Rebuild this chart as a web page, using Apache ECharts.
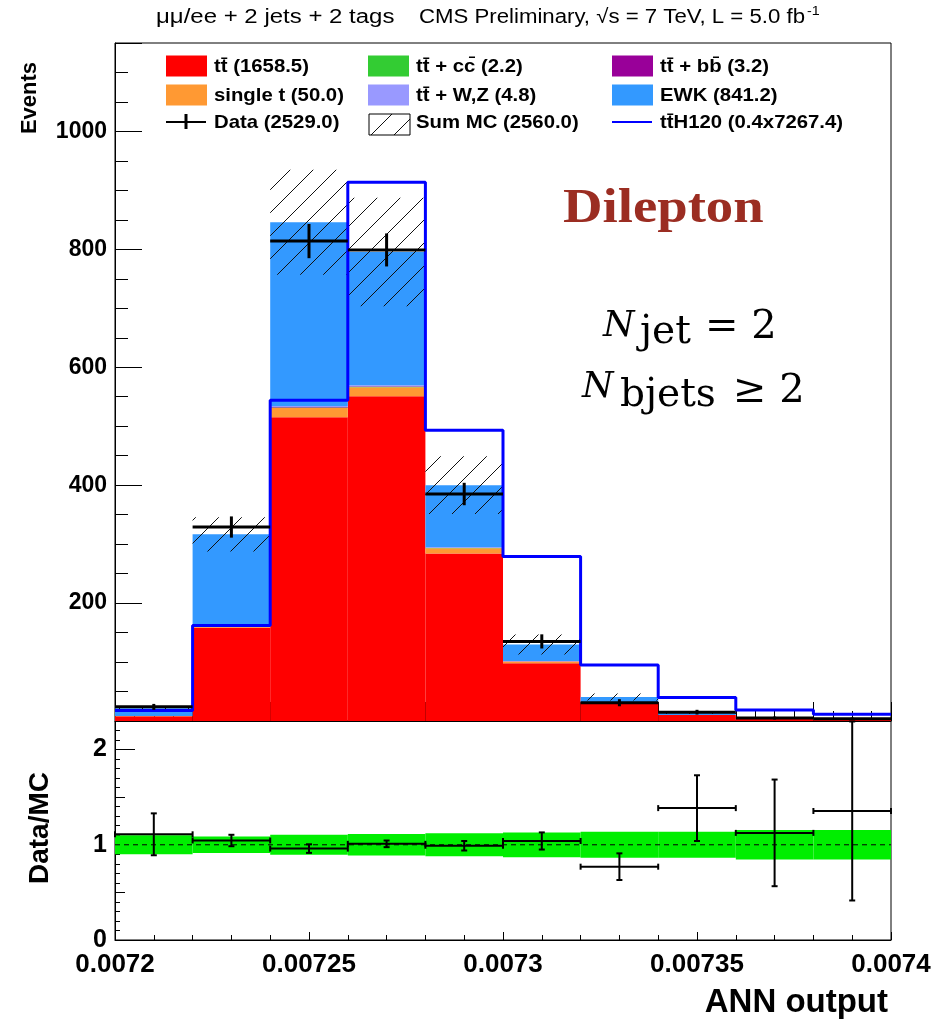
<!DOCTYPE html>
<html><head><meta charset="utf-8">
<script src="https://cdn.jsdelivr.net/npm/echarts@6/dist/echarts.min.js"></script>
<style>html,body{margin:0;padding:0;background:#fff}#c{width:941px;height:1022px}</style>
</head><body><div id="c"></div><script>
// ---- data ----
const binEdges   = [0.0072,0.00722,0.00724,0.00726,0.00728,0.0073,0.00732,0.00734,0.00736,0.00738,0.0074];
const ttbar      = [8,158,515,551,284,98,31,10,3.5,2];
const singleTop  = [0.5,6,16,15,9,3,0.5,0,0,0];
const ttcc       = [0,0.2,0.7,0.8,0.4,0.1,0,0,0,0];
const ttbb       = [0,0.2,0.9,1.1,0.6,0.3,0.1,0,0,0];
const ttVV       = [0,0.3,1.5,1.6,0.9,0.3,0.1,0.05,0.03,0.02];
const ewk        = [13,152,312,226,105,28,9,4,1,1];
const mcErr      = [2.5,29,89,92,49,17,6,2,1,0.5];
const dataVals   = [24,329,814,799,385,135,31,15,5,4];
const dataErr    = [5,18,29,28,19,12,6,4,2.5,2];
const signalVals = [18,162,544,914,493,279,95,40,18.7,11.3];
const ratioVals  = [1.11,1.045,0.96,1.01,0.99,1.04,0.77,1.385,1.125,1.355];
const ratioErr   = [0.22,0.06,0.045,0.035,0.05,0.09,0.14,0.345,0.56,0.94];
const ratioBand  = [0.1,0.087,0.105,0.113,0.12,0.13,0.136,0.137,0.155,0.155];
const xTickLabels     = ['0.0072','0.00725','0.0073','0.00735','0.0074'];
const yTickLabels     = ['200','400','600','800','1000'];
const ratioTickLabels = ['0','1','2'];
const legendLabels = ['t\u0074\u0304 (1658.5)','t\u0074\u0304 + c\u0063\u0304 (2.2)','t\u0074\u0304 + b\u0062\u0304 (3.2)',
                      'single t (50.0)','t\u0074\u0304 + W,Z (4.8)','EWK (841.2)',
                      'Data (2529.0)','Sum MC (2560.0)','t\u0074\u0304H120 (0.4x7267.4)'];

// ---- styles ----
const stackComps = [
  {vals: ttbar, color:'#ff0000'},
  {vals: singleTop, color:'#ff9933'},
  {vals: ttcc, color:'#33cc33'},
  {vals: ttbb, color:'#990099'},
  {vals: ttVV, color:'#9999ff'},
  {vals: ewk, color:'#3399ff'}
];
const FONT = '"Liberation Sans", Arial, Helvetica, sans-serif';

function makeHatch(){
  const s = 23;
  const c = document.createElement('canvas'); c.width = s; c.height = s;
  const g = c.getContext('2d');
  g.strokeStyle = '#111'; g.lineWidth = 1;
  g.beginPath(); g.moveTo(-2, s+2); g.lineTo(s+2, -2); g.stroke();
  return c;
}
const hatch = {image: makeHatch(), repeat: 'repeat'};

function rectItem(color){
  return function(params, api){
    const p0 = api.coord([api.value(0), api.value(2)]);
    const p1 = api.coord([api.value(1), api.value(3)]);
    return {type:'rect', shape:{x:p0[0], y:p1[1], width:p1[0]-p0[0], height:p0[1]-p1[1]},
            style:{fill: color}};
  };
}

const series = [];
const base = binEdges.slice(0,-1).map(()=>0);
stackComps.forEach(c => {
  const d = c.vals.map((v,i) => { const r=[binEdges[i], binEdges[i+1], base[i], base[i]+v]; base[i]+=v; return r; });
  series.push({type:'custom', xAxisIndex:0, yAxisIndex:0, z:2, renderItem: rectItem(c.color), data:d});
});
// MC uncertainty hatch
series.push({type:'custom', xAxisIndex:0, yAxisIndex:0, z:3, renderItem: rectItem(hatch),
  data: base.map((t,i)=>[binEdges[i], binEdges[i+1], t-mcErr[i], t+mcErr[i]])});
// signal step line
const sig = signalVals.map((v,i)=>[binEdges[i], v]);
sig.push([binEdges[binEdges.length-1], signalVals[signalVals.length-1]]);
series.push({type:'line', xAxisIndex:0, yAxisIndex:0, z:4, step:'end', symbol:'none', data: sig,
  lineStyle:{color:'#0000ff', width:3}});
// data crosses
series.push({type:'custom', xAxisIndex:0, yAxisIndex:0, z:5,
  data: dataVals.map((v,i)=>[binEdges[i], binEdges[i+1], v, dataErr[i]]),
  renderItem: function(params, api){
    const lo=api.value(0), hi=api.value(1), v=api.value(2), e=api.value(3), m=(lo+hi)/2;
    const a=api.coord([lo,v]), b=api.coord([hi,v]), t=api.coord([m,v+e]), u=api.coord([m,v-e]);
    return {type:'group', children:[
      {type:'line', shape:{x1:a[0],y1:a[1],x2:b[0],y2:b[1]}, style:{stroke:'#000', lineWidth:3}},
      {type:'line', shape:{x1:t[0],y1:t[1],x2:u[0],y2:u[1]}, style:{stroke:'#000', lineWidth:3}}
    ]};
  }});
// ratio band
series.push({type:'custom', xAxisIndex:2, yAxisIndex:2, z:2, renderItem: rectItem('#00ee00'),
  data: ratioBand.map((b,i)=>[binEdges[i], binEdges[i+1], 1-b, 1+b])});
// ratio reference line
series.push({type:'line', xAxisIndex:2, yAxisIndex:2, z:3, symbol:'none',
  data:[[binEdges[0],1],[binEdges[binEdges.length-1],1]],
  lineStyle:{color:'#000', width:1, type:[5,4]}});
// ratio crosses
series.push({type:'custom', xAxisIndex:2, yAxisIndex:2, z:5,
  data: ratioVals.map((v,i)=>[binEdges[i], binEdges[i+1], v, ratioErr[i]]),
  renderItem: function(params, api){
    const lo=api.value(0), hi=api.value(1), v=api.value(2), e=api.value(3), m=(lo+hi)/2;
    const a=api.coord([lo,v]), b=api.coord([hi,v]), t=api.coord([m,Math.min(v+e,2.3)]), u=api.coord([m,v-e]);
    const st={stroke:'#000', lineWidth:2}; const c=3;
    return {type:'group', children:[
      {type:'line', shape:{x1:a[0],y1:a[1],x2:b[0],y2:b[1]}, style:st},
      {type:'line', shape:{x1:a[0],y1:a[1]-c,x2:a[0],y2:a[1]+c}, style:st},
      {type:'line', shape:{x1:b[0],y1:b[1]-c,x2:b[0],y2:b[1]+c}, style:st},
      {type:'line', shape:{x1:t[0],y1:t[1],x2:u[0],y2:u[1]}, style:st},
      {type:'line', shape:{x1:t[0]-c,y1:t[1],x2:t[0]+c,y2:t[1]}, style:st},
      {type:'line', shape:{x1:u[0]-c,y1:u[1],x2:u[0]+c,y2:u[1]}, style:st}
    ]};
  }});

function lab(list){ return v => list.find(s => Math.abs(parseFloat(s)-v) < 1e-9) || ''; }
function xAx(grid, interval, len, labels, line){
  return {type:'value', gridIndex:grid, position:'bottom', offset:0,
    min:binEdges[0], max:binEdges[binEdges.length-1], interval:interval,
    axisLine:{show:line, onZero:false, lineStyle:{color:'#000', width:1}},
    axisTick:{inside:true, length:len, lineStyle:{color:'#000', width:1}},
    splitLine:{show:false},
    axisLabel: labels ? {show:true, formatter: lab(labels), color:'#000', fontFamily:FONT, fontWeight:'bold', fontSize:26, margin:12,
      showMinLabel:true, showMaxLabel:true, hideOverlap:false} : {show:false}};
}
function yAx(grid, max, interval, len, labels, line, fs){
  return {type:'value', gridIndex:grid, position:'left', offset:0, min:0, max:max, interval:interval,
    axisLine:{show:line, onZero:false, lineStyle:{color:'#000', width:1}},
    axisTick:{inside:true, length:len, lineStyle:{color:'#000', width:1}},
    splitLine:{show:false},
    axisLabel: labels ? {show:true, formatter: lab(labels), color:'#000', fontFamily:FONT, fontWeight:'bold', fontSize:fs, margin:8,
      showMinLabel:true, showMaxLabel:true, hideOverlap:false} : {show:false}};
}

const graphic = [];
function txt(x,y,text,opt){
  opt = opt||{};
  graphic.push({type:'text', x:x, y:y, rotation:opt.rotation||0, scaleX:opt.scaleX||1, z:100,
    style:{text:text, fill:opt.color||'#000', font:opt.font||('bold 20px '+FONT),
      textAlign:opt.align||'left', textVerticalAlign:opt.valign||'middle'}});
}
// title
txt(156, 17, '\u03bc\u03bc/ee + 2 jets + 2 tags', {font:'20px '+FONT, scaleX:1.2});
txt(419, 17, 'CMS Preliminary, \u221as = 7 TeV, L = 5.0 fb', {font:'20px '+FONT, scaleX:1.11});
txt(807, 11, '-1', {font:'13px '+FONT, scaleX:1.1});
// legend
const colX = [166, 368, 612], rowY = [66, 95, 122];
const swatchColors = ['#ff0000','#33cc33','#990099','#ff9933','#9999ff','#3399ff'];
for (let k=0;k<6;k++){
  const cx = colX[k%3], cy = rowY[Math.floor(k/3)];
  graphic.push({type:'rect', z:100, shape:{x:cx, y:cy-10.5, width:41, height:21}, style:{fill:swatchColors[k]}});
}
graphic.push({type:'line', z:100, shape:{x1:166,y1:122,x2:206,y2:122}, style:{stroke:'#000', lineWidth:2}});
graphic.push({type:'line', z:100, shape:{x1:186,y1:114,x2:186,y2:129}, style:{stroke:'#000', lineWidth:3}});
graphic.push({type:'rect', z:100, shape:{x:369, y:114, width:41, height:21}, style:{fill:hatch, stroke:'#000', lineWidth:1}});
graphic.push({type:'line', z:100, shape:{x1:612,y1:122,x2:652,y2:122}, style:{stroke:'#0000ff', lineWidth:2}});
legendLabels.forEach((s,k)=>{
  txt(colX[k%3]+48, rowY[Math.floor(k/3)]+1, s, {font:'bold 19px '+FONT, scaleX:1.07});
});
// annotations
txt(563, 210, 'Dilepton', {font:'bold 48px "Liberation Serif", serif', color:'#9b2d22', scaleX:1.14});
txt(603, 327, 'N', {font:'italic 36px "DejaVu Serif", serif'});
txt(640, 333, 'jet', {font:'39px "DejaVu Serif", serif'});
txt(705, 328, '= 2', {font:'40px "DejaVu Serif", serif'});
txt(582, 388, 'N', {font:'italic 36px "DejaVu Serif", serif'});
txt(620, 396, 'bjets', {font:'39px "DejaVu Serif", serif'});
txt(733, 392, '\u2265 2', {font:'40px "DejaVu Serif", serif'});
// axis titles
txt(30, 98, 'Events', {font:'bold 22px '+FONT, align:'center', rotation:Math.PI/2});
txt(40, 828, 'Data/MC', {font:'bold 28px '+FONT, align:'center', rotation:Math.PI/2});
txt(888, 1003, 'ANN output', {font:'bold 33px '+FONT, align:'right', scaleX:1.0});

const chart = echarts.init(document.getElementById('c'), null, {renderer:'canvas'});
chart.setOption({
  animation:false,
  backgroundColor:'#fff',
  grid:[
    {left:115, top:43, width:776, height:678, show:true, borderColor:'#000', borderWidth:1, backgroundColor:'transparent', outerBoundsMode:'none', containLabel:false},
    {left:115, top:721, width:776, height:219, show:true, borderColor:'#000', borderWidth:1, backgroundColor:'transparent', outerBoundsMode:'none', containLabel:false}
  ],
  xAxis:[
    xAx(0, 0.000005, 10, null, true),
    xAx(0, 0.00002, 19, null, false),
    xAx(1, 0.00001, 5, null, true),
    xAx(1, 0.00005, 8, xTickLabels, false)
  ],
  yAxis:[
    yAx(0, 1150, 50, 13, null, true),
    yAx(0, 1150, 200, 27, yTickLabels, false, 23),
    yAx(1, 2.3, 0.1, 5, null, true),
    yAx(1, 2.3, 0.5, 10, null, false),
    yAx(1, 2.3, 1, 20, ratioTickLabels, false, 25)
  ],
  series: series,
  graphic: graphic
});
</script></body></html>
